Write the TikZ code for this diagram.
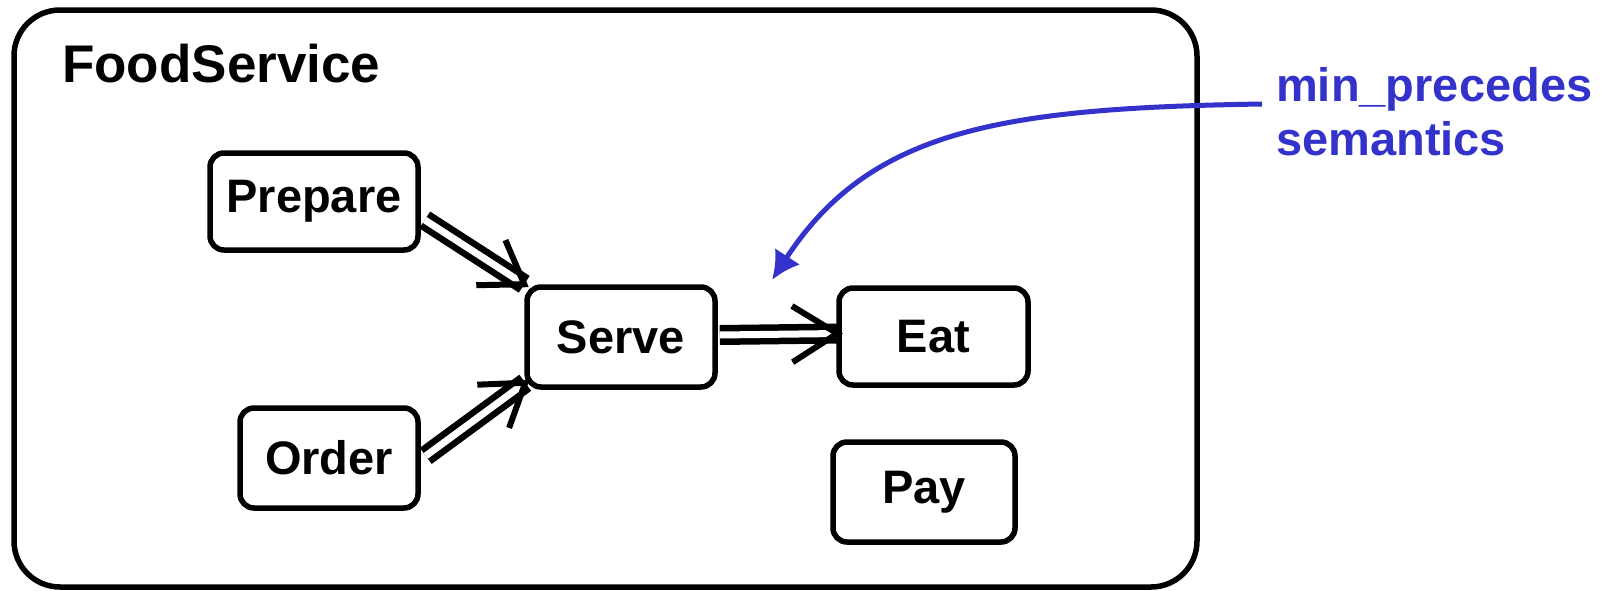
\documentclass[tikz,border=0pt]{standalone}
\usepackage{fontspec}
\setmainfont{Liberation Sans}
\usetikzlibrary{arrows.meta,calc}
\definecolor{noteblue}{RGB}{51,51,204}
\tikzset{
  actbox/.style={draw, line width=5.5pt, rounded corners=14pt, inner sep=0pt,
    font=\fontsize{47}{54}\selectfont\bfseries},
  dblline/.style={draw, line width=6.5pt, double, double distance=7pt},
  barbs/.style={draw, line width=6pt},
  notearrow/.style={draw=noteblue, line width=5pt, -{Latex[length=28pt,width=30pt]}},
}
\begin{document}
\begin{tikzpicture}[x=1pt,y=-1pt]
\useasboundingbox (0,0) rectangle (1617,590);
\fill[white] (0,0) rectangle (1617,590);

% enclosing activity
\node[draw, line width=5.5pt, rounded corners=46pt, minimum width=1183pt, minimum height=577pt, inner sep=0pt]
  (frame) at (605.5,298.5) {};
\node[anchor=base west, inner sep=0pt, font=\fontsize{53}{60}\selectfont\bfseries]
  (title) at (62,82) {FoodService};

% steps
\node[actbox, minimum width=208pt, minimum height=97pt] (prep)  at (314,201.5) {Prepare};
\node[actbox, minimum width=188pt, minimum height=100pt] (serve) at (621,337) {Serve};
\node[actbox, minimum width=189pt, minimum height=97pt]  (eat)   at (933.5,336.5) {Eat};
\node[actbox, minimum width=178pt, minimum height=100pt] (order) at (329,458) {Order};
\node[actbox, minimum width=182pt, minimum height=100pt] (pay)   at (924,492) {Pay};

% connector ends
\coordinate (s1) at ($(prep.south east)!0.32!(prep.north east)+(4,0)$);
\coordinate (t1) at (serve.north west);
\coordinate (s2) at ($(order.south east)!0.52!(order.north east)+(5,0)$);
\coordinate (t2) at ($(serve.south west)+(1,-7)$);
\coordinate (s3) at ($(serve.east)+(2,-2)$);
\coordinate (t3) at ($(eat.west)+(1,-3)$);

% min_precedes connectors
\draw[dblline] (s1) -- (t1);
\draw[barbs] ($(t1)!48pt!34:(s1)$) -- (t1) -- ($(t1)!48pt!-34:(s1)$);
\draw[dblline] (s2) -- (t2);
\draw[barbs] ($(t2)!48pt!34:(s2)$) -- (t2) -- ($(t2)!48pt!-34:(s2)$);
\draw[dblline] (s3) -- (t3);
\draw[barbs] ($(t3)!53pt!32:(s3)$) -- (t3) -- ($(t3)!53pt!-32:(s3)$);

% annotation
\node[anchor=base west, inner sep=0pt, align=left, text=noteblue,
  font=\fontsize{47}{54}\selectfont\bfseries] (note) at (1276,155)
  {min\_precedes\\semantics};
\coordinate (nstart) at (1262,104);
\coordinate (ntip) at (772,280);
\draw[notearrow] (nstart) .. controls (1000,108) and (870,130) .. (ntip);
\end{tikzpicture}
\end{document}
